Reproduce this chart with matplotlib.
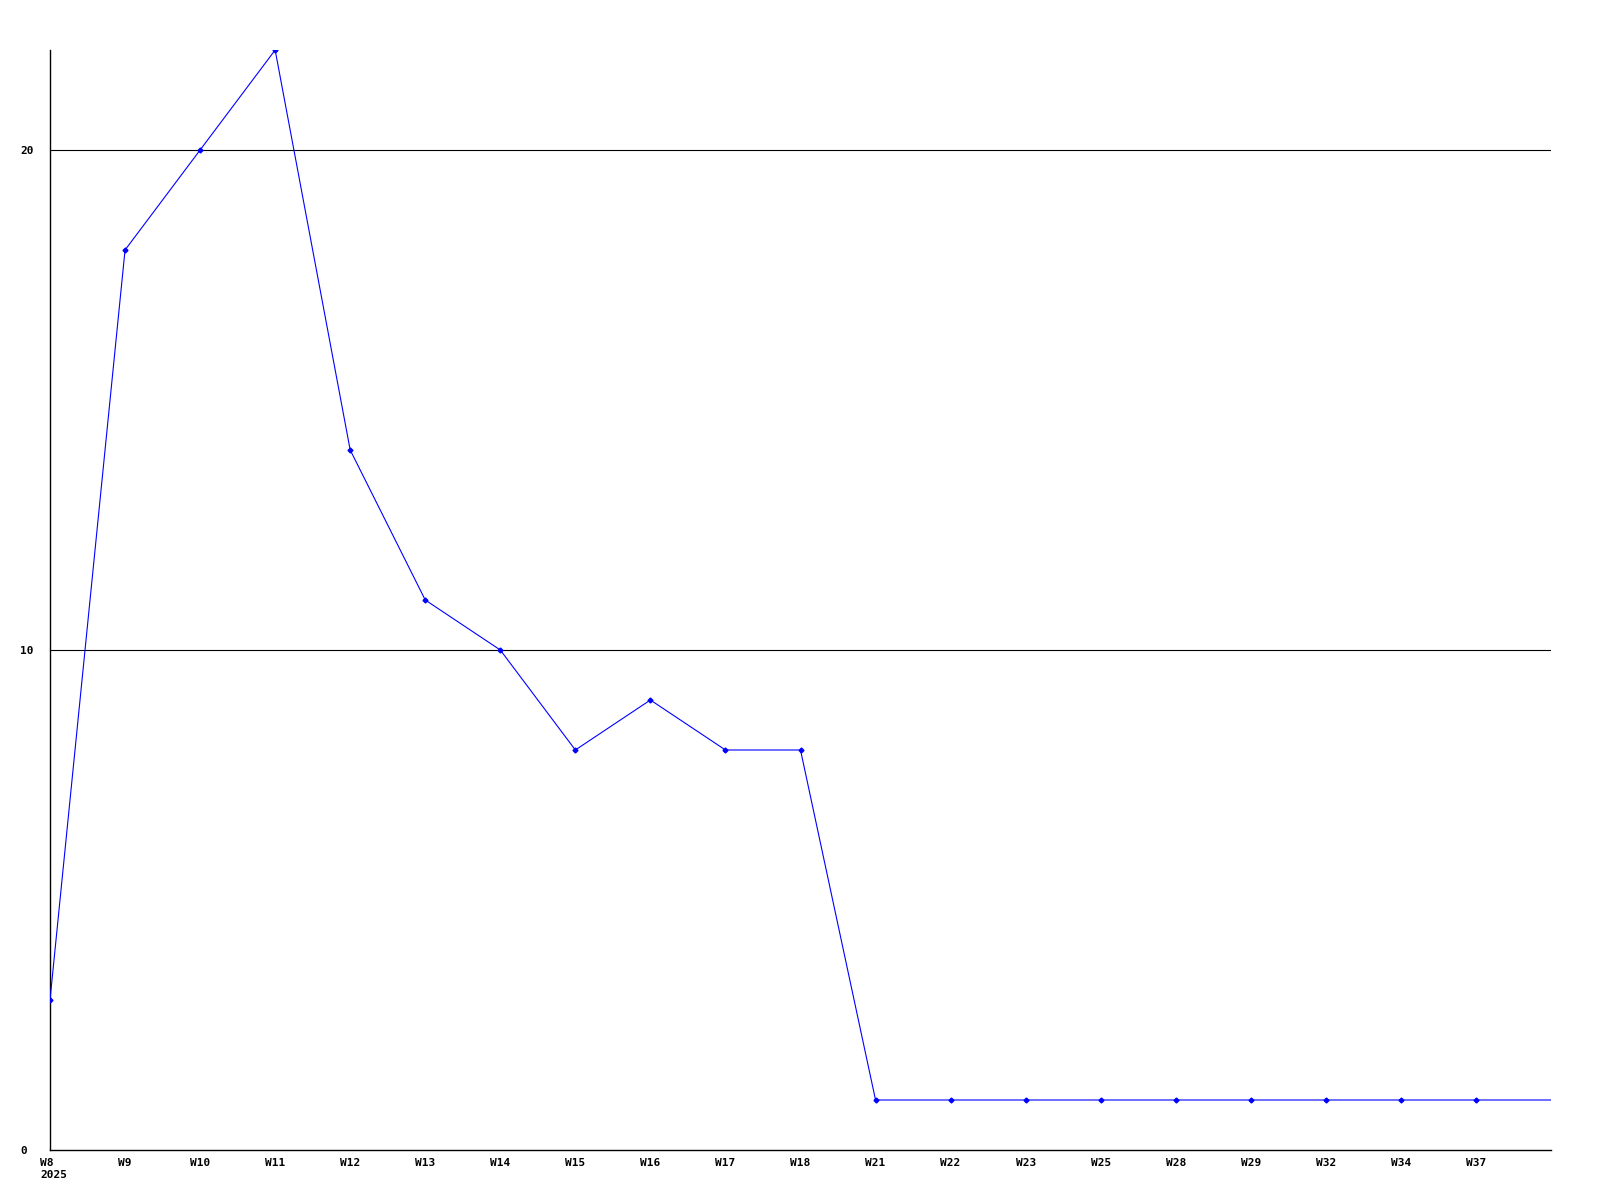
import matplotlib
matplotlib.use('Agg')
import matplotlib.pyplot as plt

weeks = ['W8', 'W9', 'W10', 'W11', 'W12', 'W13', 'W14', 'W15', 'W16', 'W17',
         'W18', 'W21', 'W22', 'W23', 'W25', 'W28', 'W29', 'W32', 'W34', 'W37']
values = [3, 18, 20, 22, 14, 11, 10, 8, 9, 8,
          8, 1, 1, 1, 1, 1, 1, 1, 1, 1]
# the line keeps going to the right edge at the last value
tail_value = 1
year = '2025'
y_ticks = [0, 10, 20]

fig = plt.figure(figsize=(16, 12), dpi=100)
ax = fig.add_axes([50 / 1600, 1 - 1150 / 1200, 1501 / 1600, 1100 / 1200])

x = list(range(len(weeks)))
ax.plot(x + [len(weeks)], values + [tail_value], color='#0000ff', lw=0.8, zorder=3)
ax.plot(x, values, linestyle='none', marker='D', ms=2.5, color='#0000ff', zorder=4)

ax.set_xlim(0, len(weeks))
ax.set_ylim(0, 22)

for y in y_ticks[1:]:
    ax.axhline(y, color='black', lw=0.8, zorder=1)

for side in ['top', 'right']:
    ax.spines[side].set_visible(False)
for side in ['left', 'bottom']:
    ax.spines[side].set_color('black')
    ax.spines[side].set_linewidth(1.0)

font = dict(family='DejaVu Sans Mono', weight='bold', size=8)
ax.set_xticks(x)
ax.set_xticklabels([''] + weeks[1:], fontdict=font, va='top')
# first label starts just left of the axis, with the year under it
ax.annotate(weeks[0] + '\n' + year, xy=(x[0], 0), xycoords=('data', 'axes fraction'),
            xytext=(-10, -8.3), textcoords='offset pixels',
            ha='left', va='top', multialignment='left', annotation_clip=False, **font)

ax.set_yticks(y_ticks)
ax.set_yticklabels([str(v) for v in y_ticks], fontdict=font, ha='left')
ax.tick_params(axis='both', length=0)
ax.tick_params(axis='x', pad=6)
ax.tick_params(axis='y', pad=21.6)

fig.savefig('out.png', dpi=100)
